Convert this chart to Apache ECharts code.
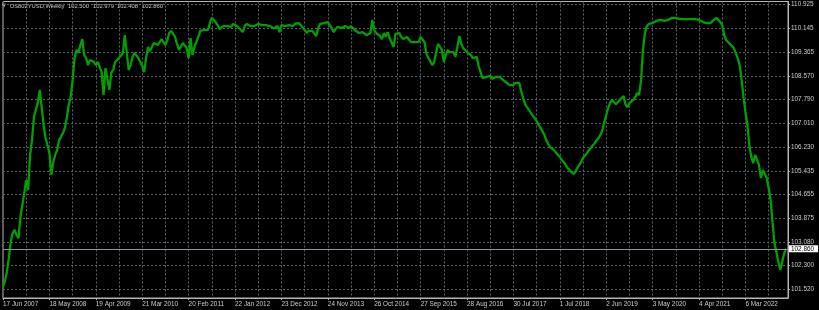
<!DOCTYPE html>
<html><head><meta charset="utf-8">
<script src="https://cdn.jsdelivr.net/npm/echarts@6/dist/echarts.min.js"></script>
<style>html,body{margin:0;padding:0;background:#000;}#c{width:819px;height:310px;}</style>
</head><body><div id="c"></div>
<script>
// ---- data ----
const symbolName = 'US802YUSD,Weekly';
const headerOHLC = ['102.500', '102.979', '102.408', '102.860'];
const lastPrice = 102.860;
const startDate = [2007, 5, 17];   // 17 Jun 2007, first bar
const stepDays = 14;               // one sample every two weekly bars
const categoryCount = 407;
const yTickLabels = ['110.925','110.145','109.365','108.570','107.790','107.010','106.230',
  '105.435','104.655','103.875','103.080','102.300','101.520'];
const closes = [
101.60,101.79,102.09,102.55,103.08,103.38,103.48,103.31,103.21,103.91,
103.97,104.70,105.13,104.80,105.96,106.45,107.21,107.45,107.68,108.11,
107.54,106.95,106.52,106.29,106.02,105.30,105.72,105.96,106.12,106.45,
106.45,106.68,106.85,107.18,107.61,107.87,108.44,109.16,109.43,109.33,
109.59,109.79,109.26,109.16,108.93,109.10,109.10,109.03,108.93,109.03,
108.87,108.70,107.94,108.83,108.77,108.11,108.67,108.77,109.03,109.06,
109.16,109.10,109.33,109.92,109.36,108.77,108.93,109.20,109.33,109.36,
109.16,109.03,108.90,108.70,109.16,109.53,109.39,109.39,109.66,109.69,
109.59,109.69,109.79,109.69,109.59,109.76,109.99,110.06,110.06,109.86,
109.63,109.43,109.53,109.66,109.66,109.49,109.16,109.82,109.26,109.53,
109.69,109.86,110.06,110.12,110.09,110.15,110.09,110.32,110.49,110.42,
110.35,110.25,110.12,110.15,110.22,110.19,110.22,110.25,110.19,110.29,
110.32,110.22,110.19,110.09,110.02,110.22,110.29,110.29,110.22,110.19,
110.22,110.19,110.29,110.35,110.25,110.22,110.25,110.22,110.22,110.19,
110.15,110.19,110.22,110.02,110.25,110.22,110.22,110.22,110.25,110.19,
110.22,110.29,110.32,110.32,110.25,110.22,110.09,109.99,110.06,110.12,
110.06,110.02,109.89,110.15,110.29,110.25,110.32,110.32,110.35,110.25,
110.15,110.02,110.12,110.19,110.22,110.15,110.12,110.22,110.19,110.15,
110.22,110.25,110.09,110.06,109.99,109.99,110.02,109.99,109.92,109.89,
109.99,110.42,110.09,109.99,110.02,109.89,109.79,109.99,109.86,110.02,
109.82,109.76,109.53,109.96,110.02,109.99,109.86,109.79,109.82,109.86,
109.92,109.69,109.66,109.69,109.63,109.69,109.86,109.92,109.69,109.30,
109.16,109.06,108.93,109.03,109.33,109.63,109.66,109.43,109.03,109.26,
109.43,109.36,109.36,109.36,109.20,109.53,109.89,109.63,109.49,109.49,
109.36,109.36,109.26,109.16,109.13,109.20,108.90,108.70,108.50,108.50,
108.54,108.54,108.57,108.47,108.44,108.54,108.54,108.54,108.47,108.47,
108.37,108.34,108.27,108.24,108.27,108.34,108.30,108.34,108.07,107.84,
107.64,107.54,107.45,107.35,107.25,107.18,107.08,106.95,106.85,106.75,
106.62,106.45,106.32,106.22,106.19,106.12,106.06,105.96,105.89,105.79,
105.72,105.63,105.53,105.46,105.40,105.33,105.40,105.53,105.63,105.72,
105.86,105.92,106.02,106.12,106.19,106.25,106.35,106.45,106.52,106.62,
106.78,107.05,107.28,107.51,107.68,107.78,107.71,107.64,107.71,107.78,
107.84,107.91,107.61,107.54,107.68,107.74,107.78,107.87,108.01,107.94,
108.44,109.43,109.99,110.22,110.29,110.35,110.32,110.35,110.39,110.35,
110.42,110.42,110.39,110.45,110.42,110.45,110.49,110.45,110.49,110.49,
110.45,110.49,110.45,110.49,110.45,110.42,110.45,110.42,110.45,110.42,
110.42,110.39,110.35,110.29,110.32,110.35,110.32,110.39,110.45,110.49,
110.42,110.35,110.25,109.92,109.76,109.69,109.63,109.56,109.49,109.43,
109.16,108.93,108.44,107.87,107.38,106.95,106.29,105.89,105.69,105.96,
106.02,105.63,105.20,105.46,105.40,105.20,104.87,104.47,103.74,103.05,
102.75,102.42,102.16,102.42,102.70,102.86
];

// ---- build ----
const MONTHS = ['Jan','Feb','Mar','Apr','May','Jun','Jul','Aug','Sep','Oct','Nov','Dec'];
const categories = [];
const t0 = Date.UTC(startDate[0], startDate[1], startDate[2]);
for (let i = 0; i < categoryCount; i++) {
  const d = new Date(t0 + i * stepDays * 86400000);
  categories.push(d.getUTCDate() + ' ' + MONTHS[d.getUTCMonth()] + ' ' + d.getUTCFullYear());
}
const yTicks = yTickLabels.map(Number);

const FONT = 'Liberation Sans';
const TXT = '#cccccc';
const FS = 6.4;
const HFS = 5.8;
const headerX = [68, 93, 117, 142];

const chart = echarts.init(document.getElementById('c'), null, {renderer: 'canvas'});
chart.setOption({
  backgroundColor: '#000000',
  animation: false,
  grid: {left: 2, right: 31, top: 1.5, bottom: 12, show: true, borderColor: '#b4b4b4', borderWidth: 1, backgroundColor: '#000'},
  xAxis: {
    type: 'category', data: categories, boundaryGap: false,
    axisLine: {show: true, lineStyle: {color: '#b4b4b4'}},
    axisTick: {show: true, interval: 23, length: 2, lineStyle: {color: '#b4b4b4'}},
    axisLabel: {interval: 23, align: 'left', margin: 3, color: TXT, fontFamily: FONT, fontSize: FS},
    splitLine: {show: true, interval: 11, lineStyle: {color: '#5c626c', type: [2, 2], width: 1}}
  },
  yAxis: {
    type: 'value', position: 'right', min: 101.2325, max: 111.031, scale: true,
    axisLine: {show: true, lineStyle: {color: '#b4b4b4'}},
    axisTick: {show: true, length: 2, customValues: yTicks, lineStyle: {color: '#b4b4b4'}},
    axisLabel: {customValues: yTicks, margin: 3, color: TXT, fontFamily: FONT, fontSize: FS,
      formatter: v => { let best = yTickLabels[0], bd = 1e9; yTickLabels.forEach(s => { const d = Math.abs(Number(s) - v); if (d < bd) { bd = d; best = s; } }); return best; }},
    splitLine: {show: true, lineStyle: {color: '#5c626c', type: [2, 2], width: 1}}
  },
  graphic: [
    {type: 'text', left: 2, top: 3, style: {text: '▼', fontSize: 5, fontFamily: 'DejaVu Sans', fill: TXT}},
    {type: 'text', left: 10, top: 3, style: {text: symbolName, fontSize: HFS, fontFamily: FONT, fill: TXT}}
  ].concat(headerOHLC.map((t, i) => ({type: 'text', left: headerX[i], top: 3, style: {text: t, fontSize: HFS, fontFamily: FONT, fill: TXT}}))),
  series: [{
    type: 'line', data: closes, symbol: 'none', showSymbol: false,
    lineStyle: {color: '#00a000', width: 2.3}, z: 3,
    markLine: {
      silent: true, symbol: 'none', animation: false,
      lineStyle: {color: '#8c95a0', type: 'solid', width: 1},
      label: {position: 'end', formatter: lastPrice.toFixed(3), backgroundColor: '#ffffff', color: '#000', fontFamily: FONT, fontSize: FS, padding: [1, 4, 0, 2], distance: 1},
      data: [{yAxis: lastPrice}]
    }
  }]
});
</script></body></html>
